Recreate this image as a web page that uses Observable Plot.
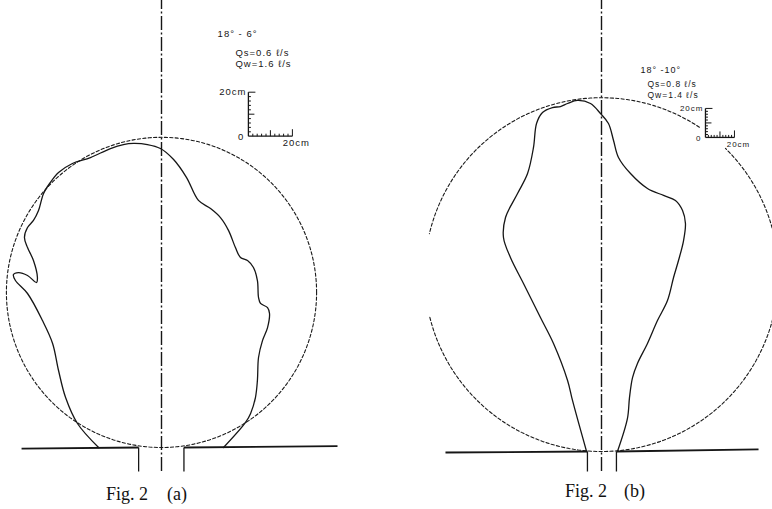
<!DOCTYPE html>
<html><head><meta charset="utf-8">
<script src="https://cdn.jsdelivr.net/npm/d3@7"></script>
<script src="https://cdn.jsdelivr.net/npm/@observablehq/plot@0.6"></script>
<style>
body{margin:0;background:#fff;}
#wrap{position:relative;width:772px;height:509px;overflow:hidden;}
.cap{position:absolute;font-family:"Liberation Serif","DejaVu Serif",serif;font-size:18px;line-height:18px;color:#111;white-space:nowrap;}
</style></head><body><div id="wrap"></div>
<script>
// ---- Data (all in cm, origin = nozzle centre at ground level, y up) ----
// Fig. 2 (a): 18°-6°
const outlineA = [
[-28.6,0],[-38.2,10.9],[-43.6,22.7],[-46.8,35.0],[-49.5,47.3],[-54.1,57.7],[-60.9,70.0],[-66.4,75.9],[-67.3,78.6],[-65.0,79.5],[-60.9,78.2],[-56.8,75.0],[-56.4,77.3],[-58.2,85.0],[-60.9,90.9],[-62.3,95.5],[-60.9,100.0],[-58.2,103.2],[-55.9,107.7],[-53.6,115.5],[-50.5,120.5],[-46.8,125.0],[-40.5,129.1],[-32.3,131.8],[-23.2,135.9],[-17.3,137.7],[-12.7,138.2],[-6.4,137.7],[-0.5,135.9],[5.5,130.9],[11.4,122.7],[16.8,112.3],[22.3,108.6],[26.8,104.5],[30.5,98.6],[33.6,90.9],[35.9,86.4],[39.1,85.0],[41.8,81.8],[43.6,75.9],[44.1,68.2],[45.0,65.5],[48.2,63.6],[49.1,60.9],[48.2,54.5],[45.9,48.6],[44.1,40.9],[43.6,30.5],[42.7,22.7],[40.5,15.5],[38.2,11.4],[28.2,0]
];
const circleA = {cx: 0, cy: 70.5, r: 70.5};
const arcRangesA = [[0, 360]];
const groundA = [[-63.6,-0.5,-10.4,0],[10.2,0,80,0.6]];
const wallsA = [-10.4, 10.2];
const labelsA = ["18° - 6°", "Qs=0.6 ℓ/s", "Qw=1.6 ℓ/s"];
const labelPosA = [[25.5,186.4],[33.6,178.0],[33.6,173.0]];
const scaleOriginA = [39.5, 141.5];

// Fig. 2 (b): 18°-10°
const outlineB = [
[-10.3,0],[-20.0,35.2],[-23.4,49.0],[-33.1,74.5],[-42.1,92.4],[-53.8,115.9],[-62.8,133.8],[-67.6,147.6],[-66.2,161.4],[-57.9,177.9],[-51.0,191.7],[-46.9,209.7],[-44.8,226.2],[-40.7,233.8],[-33.8,237.2],[-28.3,237.9],[-23.4,240.0],[-16.6,242.1],[-7.6,240.0],[-0.7,233.1],[4.8,226.2],[8.3,214.5],[11.7,202.8],[20.0,191.7],[31.7,181.4],[42.8,176.6],[51.0,173.1],[55.9,166.2],[57.9,157.2],[56.6,145.5],[53.1,131.7],[49.7,120.0],[45.5,104.1],[38.6,90.3],[31.7,74.5],[24.8,60.7],[21.4,51.0],[19.3,37.2],[17.9,22.8],[11.0,0]
];
const circleB = {cx: 0, cy: 122, r: 122};
const arcRangesB = [[11.8, 45.5],[56.4, 166.6],[194, 347.3]];
const groundB = [[-107.6,-0.7,-9.7,0],[10.3,0,108.3,1.4]];
const wallsB = [-9.7, 10.3];
const labelsB = ["18° -10°", "Qs=0.8 ℓ/s", "Qw=1.4 ℓ/s"];
const labelPosB = [[26.9,260.7],[31.7,251.2],[31.7,244.0]];
const scaleOriginB = [71.7, 216.6];

// scale bar (cm)
const scaleTicks = [2,4,6,8,10,12,14,16,18,20];
const scaleLabels = ["20cm", "0", "20cm"];

// ---- Drawing ----
const wrap = document.getElementById("wrap");
const INK = "#161616";

function arcPoints(c, ranges) {
  const pts = [];
  ranges.forEach(([a0, a1], i) => {
    const steps = Math.max(2, Math.ceil((a1 - a0) / 1.5));
    for (let s = 0; s <= steps; s++) {
      const a = (a0 + (a1 - a0) * s / steps) * Math.PI / 180;
      pts.push({x: c.cx + c.r * Math.cos(a), y: c.cy + c.r * Math.sin(a), arc: i});
    }
  });
  return pts;
}

function drawPanel(p) {
  const W = 386, H = 476, k = p.k;
  const yBottom = (p.oy - 471) / k, yTop = p.oy / k;
  const [sx, sy] = p.scaleOrigin;
  const tickLen = t => (t === 20 ? 7 : t === 10 ? 6 : 2.5) / k;
  const vTicks = scaleTicks.map(t => ({x1: sx, y1: sy + t, x2: sx + tickLen(t), y2: sy + t}));
  const hTicks = scaleTicks.map(t => ({x1: sx + t, y1: sy, x2: sx + t, y2: sy + tickLen(t)}));
  const bars = [{x1: sx, y1: sy, x2: sx, y2: sy + 20}, {x1: sx, y1: sy, x2: sx + 20, y2: sy}];
  const ground = p.ground.map(([x1, y1, x2, y2]) => ({x1, y1, x2, y2}));
  const walls = p.walls.map(x => ({x1: x, y1: 0, x2: x, y2: yBottom}));
  const outline = p.outline.map(([x, y]) => ({x, y}));
  const labels = p.labels.map((t, i) => ({text: t, x: p.labelPos[i][0], y: p.labelPos[i][1], fs: i === 0 ? p.fs0 : p.fs}));
  const sLab = [
    {text: scaleLabels[0], x: sx, y: sy + 20, anchor: "end", dx: -2, dy: 0},
    {text: scaleLabels[1], x: sx, y: sy, anchor: "end", dx: -4, dy: 1},
    {text: scaleLabels[2], x: sx + 20, y: sy, anchor: "middle", dx: 4, dy: 7}
  ];
  const plot = Plot.plot({
    width: W, height: H, margin: 0,
    x: {domain: [-p.ox / k, (W - p.ox) / k], axis: null},
    y: {domain: [(p.oy - H) / k, p.oy / k], axis: null},
    style: {background: "transparent", overflow: "visible", letterSpacing: p.ls + "px"},
    marks: [
      Plot.line(arcPoints(p.circle, p.arcRanges), {x: "x", y: "y", z: "arc", stroke: "#1a1a1a", strokeWidth: 1.1, strokeDasharray: "3.2,2.2"}),
      Plot.ruleX([0], {y1: yBottom, y2: yTop, stroke: INK, strokeWidth: 1.4, strokeDasharray: "14,2.5,2,2.5"}),
      Plot.link(ground, {x1: "x1", y1: "y1", x2: "x2", y2: "y2", stroke: INK, strokeWidth: 1.8}),
      Plot.link(walls, {x1: "x1", y1: "y1", x2: "x2", y2: "y2", stroke: INK, strokeWidth: 1.3}),
      Plot.line(outline, {x: "x", y: "y", curve: "catmull-rom", stroke: INK, strokeWidth: 1.3}),
      Plot.link(bars, {x1: "x1", y1: "y1", x2: "x2", y2: "y2", stroke: INK, strokeWidth: 1.3}),
      Plot.link(vTicks, {x1: "x1", y1: "y1", x2: "x2", y2: "y2", stroke: INK, strokeWidth: 1}),
      Plot.link(hTicks, {x1: "x1", y1: "y1", x2: "x2", y2: "y2", stroke: INK, strokeWidth: 1}),
      Plot.text(labels, {x: "x", y: "y", text: "text", textAnchor: "start", lineAnchor: "bottom", fontSize: d => d.fs, fontFamily: "Liberation Sans, Arial, sans-serif", fill: INK}),
      ...sLab.map(d => Plot.text([d], {x: "x", y: "y", text: "text", textAnchor: d.anchor, dx: d.dx, dy: d.dy, fontSize: p.sfs, fontFamily: "Liberation Sans, Arial, sans-serif", fill: INK}))
    ]
  });
  plot.style.position = "absolute";
  plot.style.left = p.left + "px";
  plot.style.top = "0px";
  wrap.appendChild(plot);
}

drawPanel({k: 2.2, ox: 161, oy: 447, left: 0, outline: outlineA, circle: circleA, arcRanges: arcRangesA,
  ground: groundA, walls: wallsA, labels: labelsA, labelPos: labelPosA, scaleOrigin: scaleOriginA, fs0: 9.5, fs: 9.5, sfs: 9.5, ls: 1.0});
drawPanel({k: 1.45, ox: 215, oy: 451, left: 386, outline: outlineB, circle: circleB, arcRanges: arcRangesB,
  ground: groundB, walls: wallsB, labels: labelsB, labelPos: labelPosB, scaleOrigin: scaleOriginB, fs0: 9, fs: 8.5, sfs: 8, ls: 1.0});

// captions
const captions = [
  {parts: ["Fig. 2", "(a)"], left: [106, 167], top: 485},
  {parts: ["Fig. 2", "(b)"], left: [565, 624], top: 482}
];
captions.forEach(c => c.parts.forEach((t, i) => {
  const s = document.createElement("div");
  s.className = "cap";
  s.textContent = t;
  s.style.left = c.left[i] + "px";
  s.style.top = c.top + "px";
  wrap.appendChild(s);
}));
</script></body></html>
